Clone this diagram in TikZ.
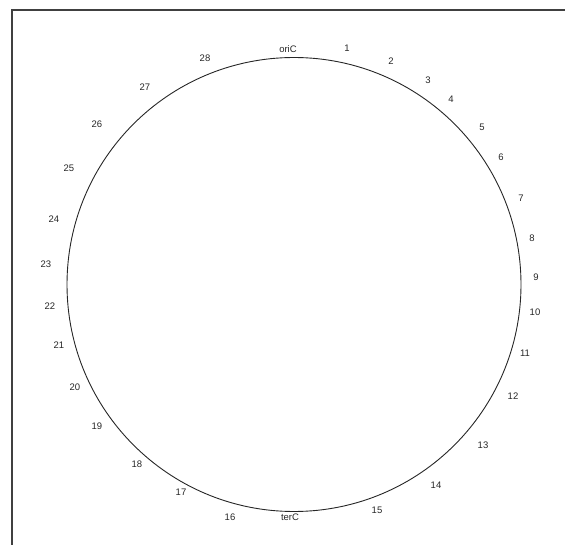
\documentclass[tikz,border=0pt]{standalone}
\usepackage{fontspec}
\setmainfont{Liberation Sans}

\begin{document}
\begin{tikzpicture}[x=1pt,y=-1pt]
\useasboundingbox (0,0) rectangle (565,545);
\draw[black!75, line width=1.2pt] (12,545) -- (12,10) -- (565,10);
\node[draw=black!85, line width=0.9pt, circle, minimum size=454pt, inner sep=0pt] (chrom) at (294,284.5) {};
\node[font=\fontsize{9.5}{11}\selectfont, text=black!85] (ori) at (288,49) {oriC};
\node[font=\fontsize{9.5}{11}\selectfont, text=black!85] (n1) at (347,48) {1};
\node[font=\fontsize{9.5}{11}\selectfont, text=black!85] (n2) at (391,61) {2};
\node[font=\fontsize{9.5}{11}\selectfont, text=black!85] (n3) at (428,80) {3};
\node[font=\fontsize{9.5}{11}\selectfont, text=black!85] (n4) at (451,99) {4};
\node[font=\fontsize{9.5}{11}\selectfont, text=black!85] (n5) at (482,127) {5};
\node[font=\fontsize{9.5}{11}\selectfont, text=black!85] (n6) at (501,157) {6};
\node[font=\fontsize{9.5}{11}\selectfont, text=black!85] (n7) at (521,198) {7};
\node[font=\fontsize{9.5}{11}\selectfont, text=black!85] (n8) at (532,238) {8};
\node[font=\fontsize{9.5}{11}\selectfont, text=black!85] (n9) at (536,277) {9};
\node[font=\fontsize{9.5}{11}\selectfont, text=black!85] (n10) at (535,312) {10};
\node[font=\fontsize{9.5}{11}\selectfont, text=black!85] (n11) at (525,353) {11};
\node[font=\fontsize{9.5}{11}\selectfont, text=black!85] (n12) at (513,396) {12};
\node[font=\fontsize{9.5}{11}\selectfont, text=black!85] (n13) at (483,445) {13};
\node[font=\fontsize{9.5}{11}\selectfont, text=black!85] (n14) at (436,485) {14};
\node[font=\fontsize{9.5}{11}\selectfont, text=black!85] (n15) at (377,510) {15};
\node[font=\fontsize{9.5}{11}\selectfont, text=black!85] (n16) at (230,517) {16};
\node[font=\fontsize{9.5}{11}\selectfont, text=black!85] (n17) at (181,492) {17};
\node[font=\fontsize{9.5}{11}\selectfont, text=black!85] (n18) at (137,464) {18};
\node[font=\fontsize{9.5}{11}\selectfont, text=black!85] (n19) at (97,426) {19};
\node[font=\fontsize{9.5}{11}\selectfont, text=black!85] (n20) at (75,387) {20};
\node[font=\fontsize{9.5}{11}\selectfont, text=black!85] (n21) at (59,345) {21};
\node[font=\fontsize{9.5}{11}\selectfont, text=black!85] (n22) at (50,306) {22};
\node[font=\fontsize{9.5}{11}\selectfont, text=black!85] (n23) at (46,264) {23};
\node[font=\fontsize{9.5}{11}\selectfont, text=black!85] (n24) at (54,219) {24};
\node[font=\fontsize{9.5}{11}\selectfont, text=black!85] (n25) at (69,168) {25};
\node[font=\fontsize{9.5}{11}\selectfont, text=black!85] (n26) at (97,124) {26};
\node[font=\fontsize{9.5}{11}\selectfont, text=black!85] (n27) at (145,87) {27};
\node[font=\fontsize{9.5}{11}\selectfont, text=black!85] (n28) at (205,58) {28};
\node[font=\fontsize{9.5}{11}\selectfont, text=black!85] (ter) at (290,517) {terC};
\end{tikzpicture}
\end{document}
